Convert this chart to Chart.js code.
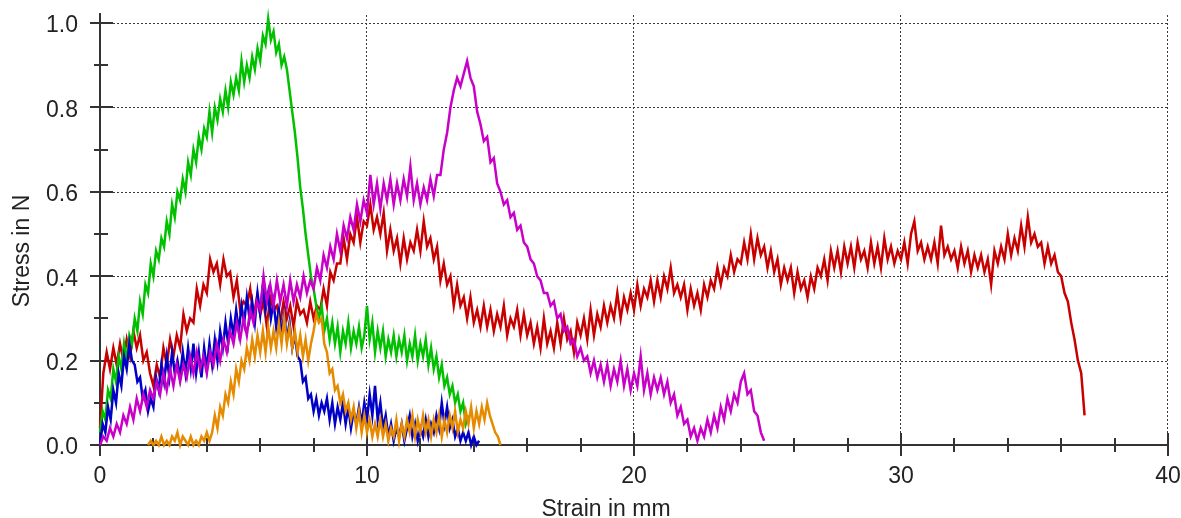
<!DOCTYPE html>
<html>
<head>
<meta charset="utf-8">
<script src="https://cdn.jsdelivr.net/npm/chart.js@4"></script>
<style>
html,body{margin:0;padding:0;background:#fff;}
canvas{display:block;}
</style>
</head>
<body>
<canvas id="c" width="1181" height="518"></canvas>
<script>
// ---- data (stress in N, sampled at a fixed strain step in mm) ----
const xTickValues = [0, 10, 20, 30, 40];
const yTickValues = [0.0, 0.2, 0.4, 0.6, 0.8, 1.0];

const greenStart = 0, greenStep = 0.1;
const greenStress = [
0.03,0.08,0.06,0.13,0.11,0.18,0.15,0.21,0.18,0.24,
0.20,0.26,0.24,0.30,0.27,0.34,0.31,0.38,0.36,0.43,
0.40,0.46,0.44,0.49,0.47,0.53,0.50,0.57,0.54,0.60,
0.58,0.63,0.60,0.67,0.64,0.70,0.67,0.73,0.70,0.75,
0.73,0.79,0.74,0.80,0.77,0.82,0.79,0.84,0.80,0.86,
0.83,0.87,0.84,0.91,0.86,0.90,0.87,0.92,0.89,0.94,
0.91,0.97,0.95,1.01,0.96,0.98,0.93,0.95,0.90,0.92,
0.89,0.84,0.79,0.74,0.68,0.61,0.56,0.50,0.45,0.40,
0.37,0.33,0.30,0.33,0.27,0.30,0.25,0.29,0.24,0.28,
0.22,0.27,0.24,0.29,0.23,0.27,0.24,0.28,0.23,0.26,
0.33,0.25,0.29,0.22,0.27,0.23,0.27,0.21,0.25,0.22,
0.26,0.21,0.25,0.22,0.26,0.20,0.24,0.21,0.26,0.20,
0.24,0.21,0.25,0.19,0.23,0.18,0.21,0.16,0.19,0.14,
0.16,0.12,0.14,0.10,0.12,0.08,0.10,0.05,0.07
];

const blueStart = 0, blueStep = 0.1;
const blueStress = [
0.00,0.05,0.03,0.09,0.06,0.13,0.10,0.17,0.14,0.21,
0.18,0.24,0.20,0.19,0.15,0.16,0.11,0.13,0.08,0.11,
0.09,0.16,0.13,0.19,0.15,0.21,0.16,0.22,0.17,0.20,
0.16,0.22,0.17,0.23,0.18,0.24,0.17,0.22,0.16,0.23,
0.18,0.24,0.19,0.25,0.20,0.27,0.23,0.29,0.24,0.30,
0.26,0.32,0.27,0.33,0.29,0.35,0.30,0.34,0.29,0.36,
0.31,0.38,0.32,0.36,0.30,0.34,0.28,0.32,0.26,0.31,
0.25,0.29,0.23,0.26,0.21,0.20,0.15,0.16,0.11,0.12,
0.08,0.11,0.07,0.10,0.08,0.11,0.06,0.10,0.05,0.09,
0.06,0.10,0.05,0.09,0.04,0.08,0.05,0.09,0.05,0.10,
0.06,0.12,0.07,0.14,0.06,0.10,0.04,0.07,0.02,0.05,
0.01,0.04,0.02,0.05,0.01,0.04,0.07,0.02,0.05,0.01,
0.04,0.02,0.06,0.02,0.05,0.03,0.07,0.04,0.10,0.05,
0.09,0.04,0.06,0.02,0.04,0.01,0.03,0.01,0.03,0.00,
0.02,0.00,0.01
];

const orangeStart = 1.8, orangeStep = 0.1;
const orangeStress = [
0.00,0.01,0.00,0.01,0.00,0.02,0.00,0.01,0.00,0.02,
0.01,0.03,0.00,0.02,0.01,0.00,0.02,0.00,0.01,0.00,
0.02,0.01,0.03,0.01,0.03,0.07,0.04,0.09,0.07,0.12,
0.10,0.15,0.12,0.18,0.15,0.20,0.18,0.23,0.20,0.25,
0.21,0.26,0.22,0.27,0.22,0.28,0.23,0.27,0.23,0.29,
0.24,0.30,0.24,0.28,0.23,0.27,0.22,0.26,0.21,0.25,
0.20,0.24,0.27,0.31,0.29,0.30,0.24,0.22,0.17,0.18,
0.13,0.14,0.10,0.12,0.08,0.10,0.06,0.09,0.04,0.08,
0.03,0.07,0.03,0.06,0.02,0.05,0.02,0.06,0.02,0.05,
0.01,0.04,0.02,0.06,0.01,0.05,0.02,0.06,0.03,0.07,
0.02,0.06,0.03,0.07,0.03,0.06,0.02,0.06,0.03,0.07,
0.02,0.06,0.03,0.07,0.04,0.08,0.03,0.06,0.04,0.08,
0.05,0.09,0.04,0.08,0.05,0.09,0.06,0.10,0.07,0.05,
0.03,0.02,0.00
];

const magentaStart = 0, magentaStep = 0.125;
const magentaStress = [
0.00,0.02,0.01,0.04,0.02,0.05,0.03,0.07,
0.05,0.09,0.06,0.11,0.08,0.12,0.09,0.13,
0.11,0.15,0.12,0.17,0.13,0.18,0.14,0.19,
0.15,0.19,0.16,0.21,0.17,0.22,0.18,0.21,
0.17,0.22,0.19,0.24,0.20,0.25,0.22,0.27,
0.24,0.29,0.25,0.30,0.26,0.32,0.29,0.34,
0.32,0.40,0.34,0.38,0.33,0.39,0.34,0.38,
0.33,0.39,0.34,0.38,0.35,0.40,0.36,0.39,
0.37,0.42,0.39,0.45,0.42,0.47,0.44,0.50,
0.46,0.52,0.49,0.54,0.51,0.57,0.53,0.58,
0.55,0.64,0.57,0.62,0.56,0.62,0.58,0.63,
0.57,0.62,0.58,0.63,0.59,0.66,0.58,0.62,
0.57,0.61,0.58,0.63,0.59,0.64,0.64,0.70,
0.74,0.80,0.84,0.87,0.85,0.88,0.91,0.87,
0.85,0.79,0.76,0.72,0.73,0.67,0.68,0.62,
0.60,0.57,0.58,0.54,0.55,0.51,0.52,0.48,
0.47,0.44,0.43,0.40,0.39,0.36,0.36,0.33,
0.34,0.30,0.31,0.27,0.28,0.24,0.25,0.21,
0.23,0.20,0.21,0.17,0.20,0.16,0.19,0.15,
0.19,0.14,0.18,0.15,0.20,0.14,0.18,0.13,
0.17,0.14,0.21,0.13,0.17,0.12,0.16,0.13,
0.16,0.12,0.15,0.10,0.12,0.07,0.09,0.05,
0.06,0.02,0.04,0.01,0.04,0.02,0.06,0.03,
0.07,0.04,0.09,0.06,0.11,0.08,0.12,0.10,
0.15,0.17,0.12,0.13,0.08,0.07,0.03,0.01
];

const redStart = 0, redStep = 0.125;
const redStress = [
0.04,0.17,0.22,0.18,0.23,0.19,0.24,0.20,
0.25,0.21,0.27,0.23,0.26,0.20,0.22,0.17,
0.14,0.19,0.16,0.23,0.19,0.25,0.21,0.26,
0.23,0.31,0.27,0.30,0.29,0.37,0.33,0.38,
0.36,0.44,0.41,0.43,0.38,0.44,0.40,0.41,
0.35,0.39,0.32,0.34,0.33,0.37,0.30,0.35,
0.31,0.34,0.28,0.35,0.32,0.33,0.29,0.34,
0.30,0.33,0.28,0.34,0.31,0.32,0.29,0.34,
0.30,0.33,0.32,0.37,0.33,0.41,0.39,0.43,
0.43,0.49,0.44,0.50,0.48,0.54,0.48,0.53,
0.52,0.57,0.51,0.54,0.50,0.55,0.46,0.51,
0.46,0.49,0.43,0.49,0.44,0.48,0.46,0.51,
0.46,0.53,0.47,0.49,0.44,0.47,0.39,0.43,
0.38,0.40,0.33,0.38,0.33,0.35,0.30,0.35,
0.29,0.32,0.28,0.33,0.28,0.32,0.27,0.31,
0.28,0.33,0.26,0.30,0.28,0.32,0.26,0.31,
0.26,0.29,0.24,0.28,0.23,0.30,0.24,0.27,
0.23,0.29,0.24,0.30,0.25,0.27,0.22,0.29,
0.26,0.30,0.25,0.32,0.26,0.31,0.28,0.33,
0.29,0.33,0.30,0.36,0.30,0.35,0.32,0.36,
0.32,0.38,0.33,0.37,0.35,0.39,0.34,0.39,
0.35,0.40,0.37,0.42,0.36,0.38,0.35,0.38,
0.32,0.37,0.33,0.36,0.32,0.38,0.35,0.39,
0.37,0.42,0.38,0.42,0.40,0.45,0.41,0.44,
0.43,0.48,0.44,0.50,0.44,0.49,0.45,0.47,
0.42,0.46,0.41,0.44,0.38,0.42,0.39,0.42,
0.36,0.41,0.37,0.39,0.35,0.40,0.37,0.42,
0.40,0.44,0.39,0.46,0.42,0.46,0.41,0.47,
0.43,0.47,0.42,0.48,0.44,0.46,0.42,0.48,
0.43,0.47,0.42,0.49,0.44,0.47,0.43,0.46,
0.44,0.48,0.43,0.50,0.53,0.46,0.48,0.44,
0.47,0.44,0.48,0.43,0.52,0.45,0.47,0.44,
0.46,0.42,0.47,0.43,0.46,0.41,0.45,0.42,
0.45,0.41,0.44,0.38,0.46,0.43,0.47,0.44,
0.50,0.45,0.49,0.46,0.52,0.47,0.54,0.48,
0.50,0.47,0.48,0.43,0.47,0.43,0.45,0.41,
0.40,0.36,0.34,0.29,0.25,0.20,0.17,0.07
];

// ---- build chart ----
function series(start, step, values) {
  return values.map((v, i) => ({ x: +(start + i * step).toFixed(4), y: v }));
}
const FONT = "'Liberation Sans', Arial, Helvetica, sans-serif";

const axesPlugin = {
  id: 'axesLook',
  beforeDatasetsDraw(chart) {
    const { ctx, chartArea: a, scales: { x, y } } = chart;
    ctx.save();
    // dotted major grid
    ctx.strokeStyle = '#3a3a3a';
    ctx.lineWidth = 1;
    ctx.setLineDash([2, 2]);
    xTickValues.forEach(v => {
      if (v === x.min) return;
      const px = Math.round(x.getPixelForValue(v)) - 0.5;
      ctx.beginPath(); ctx.moveTo(px, a.top - 8); ctx.lineTo(px, a.bottom); ctx.stroke();
    });
    yTickValues.forEach(v => {
      if (v === y.min) return;
      const py = Math.round(y.getPixelForValue(v)) + 0.5;
      ctx.beginPath(); ctx.moveTo(a.left + 13, py); ctx.lineTo(a.right, py); ctx.stroke();
    });
    ctx.setLineDash([]);
    // axis lines
    ctx.strokeStyle = '#333';
    ctx.lineWidth = 2;
    const x0 = Math.round(x.getPixelForValue(x.min));
    const y0 = Math.round(y.getPixelForValue(y.min));
    ctx.beginPath(); ctx.moveTo(x0, a.top - 10); ctx.lineTo(x0, y0); ctx.stroke();
    ctx.beginPath(); ctx.moveTo(x0, y0); ctx.lineTo(Math.round(x.getPixelForValue(x.max)), y0); ctx.stroke();
    // y ticks: major every 0.2, minor every 0.1
    for (let k = 0; k <= 10; k++) {
      const py = Math.round(y.getPixelForValue(k / 10));
      const major = k % 2 === 0;
      ctx.beginPath();
      ctx.moveTo(x0 - (major ? 10 : 6), py);
      ctx.lineTo(x0 + (major ? 13 : 8), py);
      ctx.stroke();
    }
    // x ticks: major every 10, minor every 2
    for (let k = 0; k <= 20; k++) {
      const px = Math.round(x.getPixelForValue(k * 2));
      const major = (k * 2) % 10 === 0;
      ctx.beginPath();
      ctx.moveTo(px, y0 - (major ? 12 : 7));
      ctx.lineTo(px, y0 + (major ? 11 : 7));
      ctx.stroke();
    }
    ctx.restore();
  },
  afterDraw(chart) {
    const { ctx } = chart;
    ctx.save();
    ctx.fillStyle = '#222';
    ctx.font = '23px ' + FONT;
    ctx.textAlign = 'center';
    ctx.textBaseline = 'alphabetic';
    ctx.fillText('Strain in mm', 606, 516);
    ctx.translate(28.5, 251);
    ctx.rotate(-Math.PI / 2);
    ctx.fillText('Stress in N', 0, 0);
    ctx.restore();
  }
};

const mk = (label, color, pts) => ({
  label, data: pts, borderColor: color, backgroundColor: color,
  borderWidth: 2.5, pointRadius: 0, showLine: true, tension: 0, clip: false
});

new Chart(document.getElementById('c'), {
  type: 'scatter',
  data: {
    datasets: [
      mk('magenta', '#c800c8', series(magentaStart, magentaStep, magentaStress)),
      mk('orange', '#e68a00', series(orangeStart, orangeStep, orangeStress)),
      mk('blue', '#0000c8', series(blueStart, blueStep, blueStress)),
      mk('green', '#00c000', series(greenStart, greenStep, greenStress)),
      mk('red', '#c80000', series(redStart, redStep, redStress))
    ]
  },
  options: {
    responsive: false,
    animation: false,
    events: [],
    layout: { padding: { top: 23, right: 13, left: 0, bottom: 0 } },
    plugins: { legend: { display: false }, tooltip: { enabled: false } },
    scales: {
      x: {
        type: 'linear', min: 0, max: 40,
        afterFit(s) { s.height = 73; s.paddingLeft = 0; s.paddingRight = 0; },
        afterBuildTicks(s) { s.ticks = xTickValues.map(v => ({ value: v })); },
        ticks: { padding: 18, color: '#222', font: { family: FONT, size: 23 }, maxRotation: 0, autoSkip: false,
                 callback: v => String(v) },
        grid: { display: false, drawTicks: false },
        border: { display: false }
      },
      y: {
        type: 'linear', min: 0, max: 1,
        afterFit(s) { s.width = 100; s.paddingTop = 0; s.paddingBottom = 0; },
        afterBuildTicks(s) { s.ticks = yTickValues.map(v => ({ value: v })); },
        ticks: { padding: 22, labelOffset: 3, color: '#222', font: { family: FONT, size: 23 },
                 callback: v => Number(v).toFixed(1) },
        grid: { display: false, drawTicks: false },
        border: { display: false }
      }
    }
  },
  plugins: [axesPlugin]
});
</script>
</body>
</html>
